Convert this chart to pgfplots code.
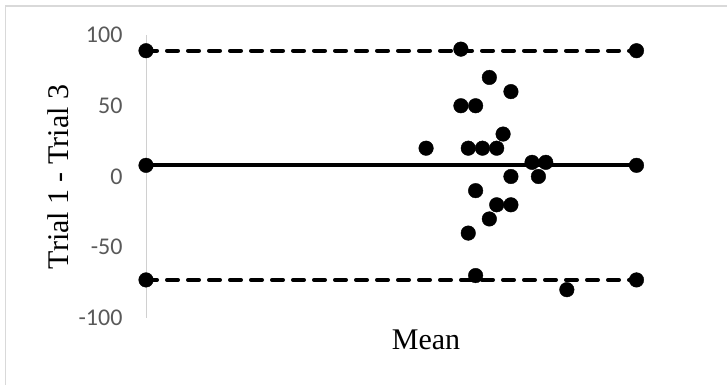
\documentclass[border=0pt]{standalone}
\usepackage{fontspec}
\setmainfont{Liberation Serif}
\newfontfamily\calibri{Carlito}
\usepackage{pgfplots}
\pgfplotsset{compat=1.18}
\definecolor{tickgray}{HTML}{595959}
\definecolor{axgray}{HTML}{D0D0D0}
\definecolor{bordergray}{HTML}{D9D9D9}
\begin{document}
\begin{tikzpicture}
\useasboundingbox (0,0) rectangle (727bp,385bp);
\draw[bordergray, line width=1.2bp] (5.5bp,0) -- (5.5bp,379bp) -- (727bp,379bp);
\begin{axis}[
  at={(146bp,67bp)}, anchor=south west,
  scale only axis, width=490.5bp, height=283bp,
  xmin=0, xmax=100, ymin=-100, ymax=100,
  axis y line*=left, hide x axis,
  axis line style={axgray, line width=1bp, -},
  ytick={-100,-50,0,50,100},
  major tick length=0pt,
  yticklabel style={font=\calibri\fontsize{24bp}{28bp}\selectfont, text=tickgray, xshift=-20bp},
  /pgf/number format/assume math mode=true,
  clip=false,
]
\addplot[black, line width=4bp, mark=*, mark size=7.3bp, mark options={solid, line width=0.4pt}] coordinates {(0,7.9) (100,7.9)};
\addplot[black, line width=4bp, line cap=round, dash pattern=on 11bp off 10bp, mark=*, mark size=7.3bp, mark options={solid, line width=0.4pt}] coordinates {(0,88.9) (100,88.9)};
\addplot[black, line width=4bp, line cap=round, dash pattern=on 11bp off 10bp, mark=*, mark size=7.3bp, mark options={solid, line width=0.4pt}] coordinates {(0,-73.1) (100,-73.1)};
\addplot[only marks, mark=*, mark size=7.3bp, black] coordinates {
(64.2,90) (70.0,70) (74.4,60) (64.2,50) (67.2,50) (72.8,30) (57.1,20) (65.7,20)
(68.6,20) (71.5,20) (78.7,10) (81.5,10) (74.4,0) (80.0,0) (67.2,-10) (71.5,-20)
(74.4,-20) (70.0,-30) (65.7,-40) (67.2,-70) (85.8,-80)};
\end{axis}
\node[rotate=90, font=\fontsize{30bp}{34bp}\selectfont] at (58bp,208bp) {Trial 1 - Trial 3};
\node[font=\fontsize{30bp}{34bp}\selectfont] at (426bp,45bp) {Mean};
\end{tikzpicture}
\end{document}
